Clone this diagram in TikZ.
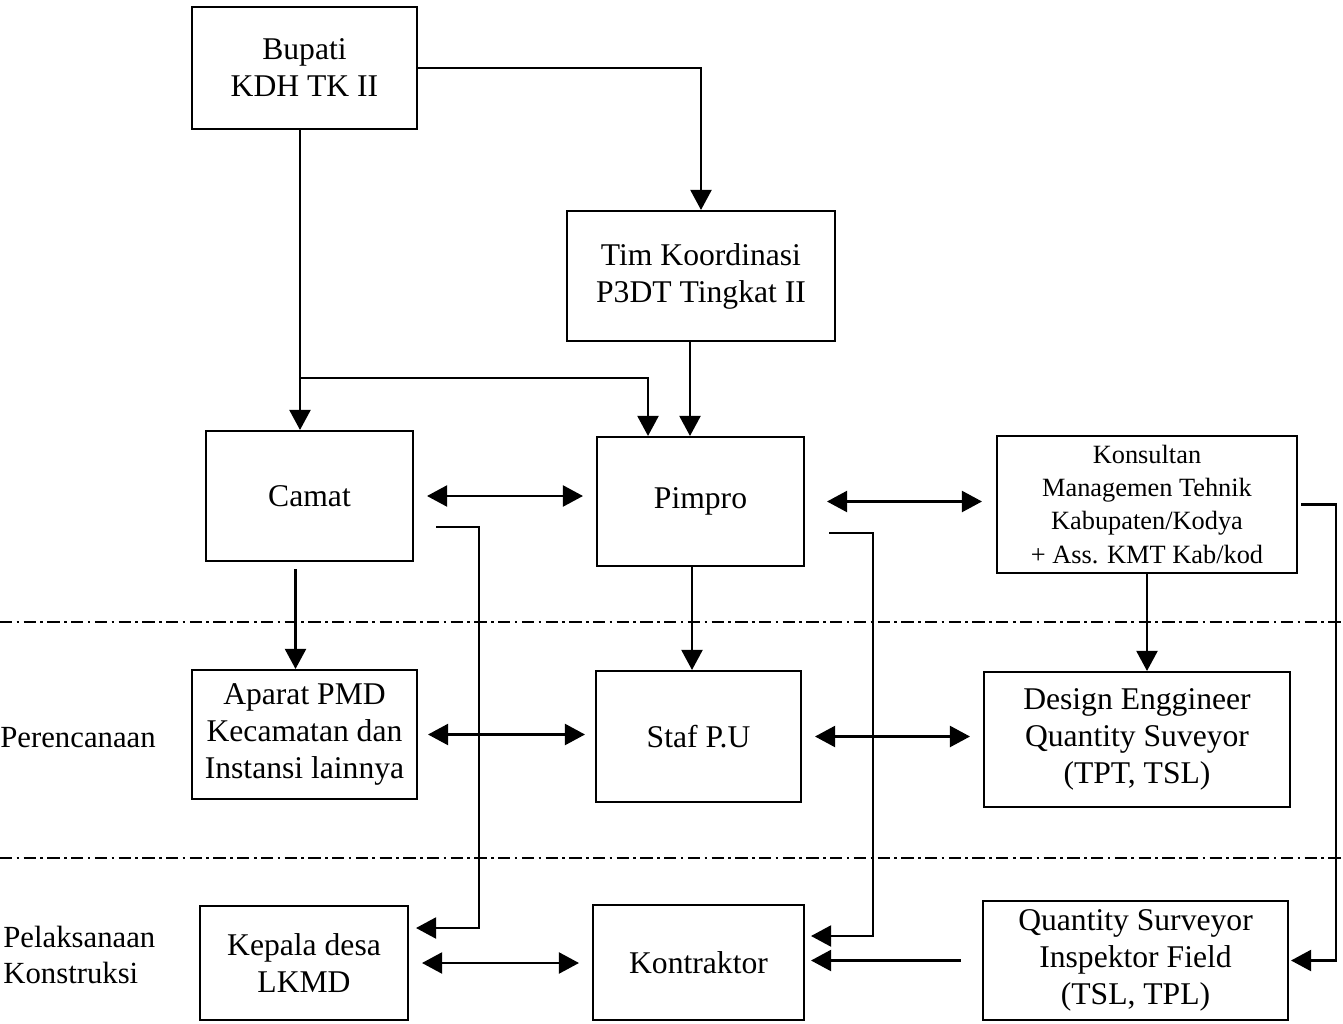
\documentclass[tikz,border=0pt]{standalone}
\usepackage{fontspec}
\setmainfont{Liberation Serif}
\usetikzlibrary{arrows.meta}
\tikzset{
  blok/.style={draw, line width=1.2pt, align=center, inner sep=0pt, font=\fontsize{18}{21}\selectfont},
  arr/.style={line width=1.2pt, -{Triangle[length=0.4cm,width=0.42cm]}},
  dbl/.style={line width=1.2pt, {Triangle[length=0.4cm,width=0.42cm]}-{Triangle[length=0.4cm,width=0.42cm]}, shorten <=0.26cm, shorten >=0.26cm},
  batas/.style={line width=0.9pt, dash pattern=on 7pt off 2.5pt on 1.5pt off 2.5pt},
  ket/.style={anchor=west, inner sep=0pt, align=left, font=\fontsize{17.5}{20}\selectfont}
}

\begin{document}
\begin{tikzpicture}[x=0.02cm, y=-0.02cm]
   \useasboundingbox (0,0) rectangle (1343,1024);

   % garis batas tahap
   \draw[batas] (0,622) -- (1343,622);
   \draw[batas] (0,858) -- (1343,858);

   \node[ket] (rencana) at (0,738) {Perencanaan};
   \node[ket] (laksana) at (3,955) {Pelaksanaan\\Konstruksi};

   % kotak
   \node[blok, minimum width=4.5cm, minimum height=2.44cm] (bupati) at (304.5,68) {Bupati\\KDH TK II};
   \node[blok, minimum width=5.36cm, minimum height=2.6cm] (tim) at (701,276) {Tim Koordinasi\\P3DT Tingkat II};
   \node[blok, minimum width=4.14cm, minimum height=2.6cm] (camat) at (309.5,496) {Camat};
   \node[blok, minimum width=4.14cm, minimum height=2.58cm] (pimpro) at (700.5,501.5) {Pimpro};
   \node[blok, minimum width=6cm, minimum height=2.74cm, font=\fontsize{15}{18.8}\selectfont] (konsultan) at (1147,504.5)
      {Konsultan\\Managemen Tehnik\\Kabupaten/Kodya\\+ Ass. KMT Kab/kod};
   \node[blok, minimum width=4.5cm, minimum height=2.58cm] (aparat) at (304.5,734.5) {Aparat PMD\\Kecamatan dan\\Instansi lainnya};
   \node[blok, minimum width=4.1cm, minimum height=2.62cm] (staf) at (698.5,736.5) {Staf P.U};
   \node[blok, minimum width=6.12cm, minimum height=2.7cm] (design) at (1137,739.5) {Design Enggineer\\Quantity Suveyor\\(TPT, TSL)};
   \node[blok, minimum width=4.16cm, minimum height=2.28cm] (kepala) at (304,963) {Kepala desa\\LKMD};
   \node[blok, minimum width=4.22cm, minimum height=2.3cm] (kontraktor) at (698.5,962.5) {Kontraktor};
   \node[blok, minimum width=6.1cm, minimum height=2.38cm] (quantity) at (1135.5,960.5) {Quantity Surveyor\\Inspektor Field\\(TSL, TPL)};

   % garis perintah
   \draw[arr] ([xshift=-0.09cm]bupati.south) -- ([xshift=-0.09cm]bupati.south |- camat.north);
   \coordinate (cabang) at (300,378);
   \draw[arr] (cabang) -| ([xshift=-1.05cm]pimpro.north);
   \draw[arr] (bupati.east) -| (tim.north);
   \draw[arr] ([xshift=-0.22cm]tim.south) -- ([xshift=-0.22cm]tim.south |- pimpro.north);
   \draw[arr, shorten <=0.14cm] ([xshift=-0.28cm]camat.south) -- ([xshift=-0.28cm]camat.south |- aparat.north);
   \draw[arr] ([xshift=-0.17cm]pimpro.south) -- ([xshift=-0.17cm]pimpro.south |- staf.north);
   \draw[arr] (konsultan.south) -- (konsultan.south |- design.north);

   % garis koordinasi
   \draw[dbl] (camat.east) -- (camat.east -| pimpro.west);
   \draw[dbl, shorten <=0.44cm, shorten >=0.28cm] (pimpro.east) -- (pimpro.east -| konsultan.west);
   \draw[dbl, shorten <=0.2cm, shorten >=0.2cm] (aparat.east) -- (aparat.east -| staf.west);
   \draw[dbl] (staf.east) -- (staf.east -| design.west);
   \draw[dbl] (kepala.east) -- (kepala.east -| kontraktor.west);
   \draw[arr, shorten <=0.42cm, shorten >=0.12cm] (quantity.west) -- (quantity.west -| kontraktor.east);

   % garis pengawasan ke bawah
   \draw[arr] ([shift={(0.44cm,-0.62cm)}]camat.east) -- ++(0.86cm,0) |- ([shift={(0.14cm,0.7cm)}]kepala.east);
   \draw[arr] ([shift={(0.48cm,-0.63cm)}]pimpro.east) -- ++(0.88cm,0) |- ([shift={(0.12cm,0.53cm)}]kontraktor.east);
   \draw[arr] ([xshift=0.06cm]konsultan.east) -- ++(0.7cm,0) |- ([xshift=0.04cm]quantity.east);
\end{tikzpicture}
\end{document}
